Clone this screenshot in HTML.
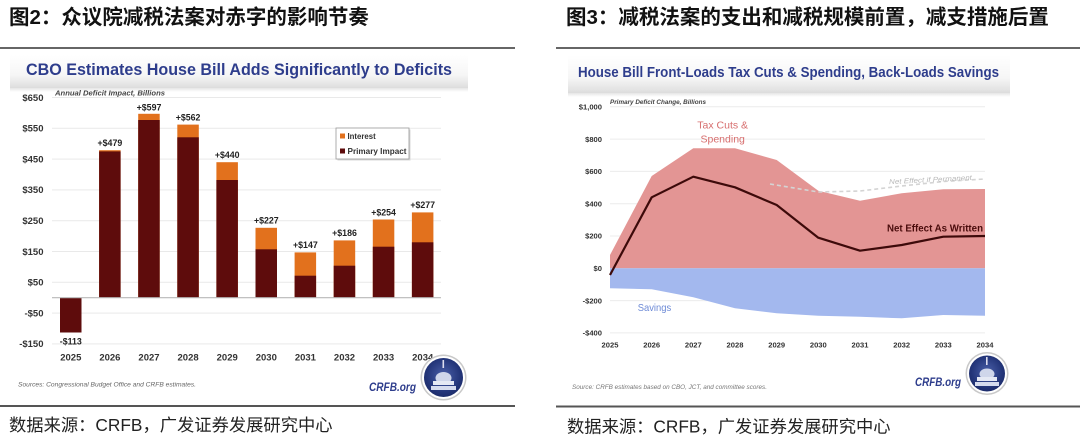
<!DOCTYPE html>
<html>
<head>
<meta charset="utf-8">
<style>
  html, body { margin:0; padding:0; background:#fff; }
  body { width:1080px; height:440px; overflow:hidden; }
  svg { display:block; }
  .cjk { font-family:"Liberation Sans","Noto Sans CJK SC",sans-serif; }
  .lat { font-family:"Liberation Sans",sans-serif; }
</style>
</head>
<body>
<svg width="1080" height="440" viewBox="0 0 1080 440" xmlns="http://www.w3.org/2000/svg">
  <defs>
    <linearGradient id="band" x1="0" y1="0" x2="0" y2="1">
      <stop offset="0" stop-color="#ffffff"/>
      <stop offset="0.6" stop-color="#f6f6f6"/>
      <stop offset="0.9" stop-color="#e4e4e4"/>
      <stop offset="1" stop-color="#dcdcdc"/>
    </linearGradient>
    <linearGradient id="shadow" x1="0" y1="0" x2="0" y2="1">
      <stop offset="0" stop-color="#e6e6e6"/>
      <stop offset="1" stop-color="#ffffff"/>
    </linearGradient>
    <radialGradient id="logo" cx="0.5" cy="0.45" r="0.6">
      <stop offset="0" stop-color="#4a5fa8"/>
      <stop offset="0.7" stop-color="#24367a"/>
      <stop offset="1" stop-color="#1a2966"/>
    </radialGradient>
  </defs>

  <!-- ===== Titles ===== -->
  <text class="cjk" x="9" y="24" font-size="20.5" font-weight="bold" fill="#111">图2：众议院减税法案对赤字的影响节奏</text>
  <text class="cjk" x="566" y="24" font-size="20.5" font-weight="bold" fill="#111">图3：减税法案的支出和减税规模前置，减支措施后置</text>

  <!-- separator lines -->
  <rect x="0" y="47" width="515" height="2" fill="#666"/>
  <rect x="556" y="47" width="524" height="2" fill="#666"/>
  <rect x="0" y="405" width="515" height="2" fill="#555"/>
  <rect x="556" y="405.5" width="524" height="2" fill="#555"/>

  <!-- bottom source text -->
  <text class="cjk" x="9" y="431" font-size="17.3" fill="#222">数据来源：CRFB，广发证券发展研究中心</text>
  <text class="cjk" x="567" y="432.5" font-size="17.3" fill="#222">数据来源：CRFB，广发证券发展研究中心</text>

  <!-- ===== LEFT CHART ===== -->
  <rect x="10" y="55" width="458" height="33" fill="url(#band)"/>
  <rect x="10" y="88" width="458" height="4" fill="url(#shadow)"/>
  <text class="lat" x="26" y="75" font-size="17" font-weight="bold" fill="#2e3d8c" textLength="426" lengthAdjust="spacingAndGlyphs">CBO Estimates House Bill Adds Significantly to Deficits</text>

  <!-- gridlines -->
  <g stroke="#e9e9e9" stroke-width="1">
    <line x1="52" y1="97.5" x2="441" y2="97.5"/>
    <line x1="52" y1="128.3" x2="441" y2="128.3"/>
    <line x1="52" y1="159.1" x2="441" y2="159.1"/>
    <line x1="52" y1="189.9" x2="441" y2="189.9"/>
    <line x1="52" y1="220.7" x2="441" y2="220.7"/>
    <line x1="52" y1="251.5" x2="441" y2="251.5"/>
    <line x1="52" y1="282.3" x2="441" y2="282.3"/>
    <line x1="52" y1="313.1" x2="441" y2="313.1"/>
    <line x1="52" y1="343.9" x2="441" y2="343.9"/>
  </g>

  <!-- y labels -->
  <g class="lat" font-size="9.5" font-weight="bold" fill="#333" text-anchor="end">
    <text x="43.5" y="100.8">$650</text>
    <text x="43.5" y="131.6">$550</text>
    <text x="43.5" y="162.4">$450</text>
    <text x="43.5" y="193.2">$350</text>
    <text x="43.5" y="224">$250</text>
    <text x="43.5" y="254.8">$150</text>
    <text x="43.5" y="285.6">$50</text>
    <text x="43.5" y="316.4">-$50</text>
    <text x="43.5" y="347.2">-$150</text>
  </g>

  <text class="lat" x="55" y="95.5" font-size="7.3" font-style="italic" font-weight="bold" fill="#444" textLength="110" lengthAdjust="spacingAndGlyphs">Annual Deficit Impact, Billions</text>

  <!-- bars -->
  <g>
    <!-- interest (orange) full totals -->
    <g fill="#e2711d">
      <rect x="99.1" y="150.2" width="21.5" height="147.5"/>
      <rect x="138.2" y="113.8" width="21.5" height="183.9"/>
      <rect x="177.3" y="124.6" width="21.5" height="173.1"/>
      <rect x="216.4" y="162.2" width="21.5" height="135.5"/>
      <rect x="255.5" y="227.8" width="21.5" height="69.9"/>
      <rect x="294.6" y="252.4" width="21.5" height="45.3"/>
      <rect x="333.7" y="240.4" width="21.5" height="57.3"/>
      <rect x="372.8" y="219.5" width="21.5" height="78.2"/>
      <rect x="411.9" y="212.4" width="21.5" height="85.3"/>
    </g>
    <g fill="#5e0c0c">
      <rect x="60" y="297.7" width="21.5" height="34.8"/>
      <rect x="99.1" y="151.4" width="21.5" height="146.3"/>
      <rect x="138.2" y="120" width="21.5" height="177.7"/>
      <rect x="177.3" y="137.3" width="21.5" height="160.4"/>
      <rect x="216.4" y="180" width="21.5" height="117.7"/>
      <rect x="255.5" y="249.3" width="21.5" height="48.4"/>
      <rect x="294.6" y="275.7" width="21.5" height="22"/>
      <rect x="333.7" y="265.7" width="21.5" height="32"/>
      <rect x="372.8" y="246.7" width="21.5" height="51"/>
      <rect x="411.9" y="242.3" width="21.5" height="55.4"/>
    </g>
  </g>
  <line x1="52" y1="297.7" x2="441" y2="297.7" stroke="#b8b8b8" stroke-width="1.2"/>

  <!-- bar value labels -->
  <g class="lat" font-size="8.8" font-weight="bold" fill="#222" text-anchor="middle">
    <text x="70.8" y="344.5">-$113</text>
    <text x="109.9" y="146.2">+$479</text>
    <text x="149" y="110.5">+$597</text>
    <text x="188.1" y="120.3">+$562</text>
    <text x="227.2" y="158.2">+$440</text>
    <text x="266.3" y="223.6">+$227</text>
    <text x="305.4" y="248.2">+$147</text>
    <text x="344.5" y="236.2">+$186</text>
    <text x="383.6" y="215.3">+$254</text>
    <text x="422.7" y="208.2">+$277</text>
  </g>

  <!-- year labels -->
  <g class="lat" font-size="9.5" font-weight="bold" fill="#333" text-anchor="middle">
    <text x="70.8" y="360.5">2025</text>
    <text x="109.9" y="360.5">2026</text>
    <text x="149" y="360.5">2027</text>
    <text x="188.1" y="360.5">2028</text>
    <text x="227.2" y="360.5">2029</text>
    <text x="266.3" y="360.5">2030</text>
    <text x="305.4" y="360.5">2031</text>
    <text x="344.5" y="360.5">2032</text>
    <text x="383.6" y="360.5">2033</text>
    <text x="422.7" y="360.5">2034</text>
  </g>

  <!-- legend -->
  <rect x="337.5" y="129.5" width="73" height="31" fill="#d8d8d8"/>
  <rect x="336" y="128" width="73" height="31" fill="#fff" stroke="#999" stroke-width="0.8"/>
  <rect x="340" y="133.5" width="5" height="5" fill="#e2711d"/>
  <text class="lat" x="347.5" y="139" font-size="7.8" font-weight="bold" fill="#333">Interest</text>
  <rect x="340" y="148.5" width="5" height="5" fill="#5e0c0c"/>
  <text class="lat" x="347.5" y="154" font-size="7.8" font-weight="bold" fill="#333" textLength="59" lengthAdjust="spacingAndGlyphs">Primary Impact</text>

  <!-- sources + CRFB -->
  <text class="lat" x="18" y="386.5" font-size="6.4" font-style="italic" fill="#666" textLength="178" lengthAdjust="spacingAndGlyphs">Sources: Congressional Budget Office and CRFB estimates.</text>
  <text class="lat" x="369" y="391" font-size="12" font-style="italic" font-weight="bold" fill="#2e3d8c" textLength="47" lengthAdjust="spacingAndGlyphs">CRFB.org</text>
  <g>
    <circle cx="443.5" cy="377.5" r="23" fill="#c9c9c9"/>
    <circle cx="443.5" cy="377.5" r="21.5" fill="#fff"/>
    <circle cx="443.5" cy="377.5" r="19.5" fill="url(#logo)"/>
    <rect x="442.5" y="360" width="1.6" height="8" fill="#dde"/>
    <ellipse cx="443.5" cy="378" rx="8" ry="6" fill="#cfd6ea"/>
    <rect x="433" y="381" width="21" height="4" fill="#e5e9f4"/>
    <rect x="431" y="386" width="25" height="4" fill="#d5dbee"/>
  </g>

  <!-- ===== RIGHT CHART ===== -->
  <rect x="568" y="55" width="442" height="38" fill="url(#band)"/>
  <rect x="568" y="93" width="442" height="4" fill="url(#shadow)"/>
  <text class="lat" x="578" y="77" font-size="14.5" font-weight="bold" fill="#2e3d8c" textLength="421" lengthAdjust="spacingAndGlyphs">House Bill Front-Loads Tax Cuts &amp; Spending, Back-Loads Savings</text>

  <g stroke="#ececec" stroke-width="1">
    <line x1="610" y1="106.8" x2="985" y2="106.8"/>
    <line x1="610" y1="139.1" x2="985" y2="139.1"/>
    <line x1="610" y1="171.4" x2="985" y2="171.4"/>
    <line x1="610" y1="203.7" x2="985" y2="203.7"/>
    <line x1="610" y1="236" x2="985" y2="236"/>
    <line x1="610" y1="300.6" x2="985" y2="300.6"/>
    <line x1="610" y1="332.9" x2="985" y2="332.9"/>
  </g>

  <g class="lat" font-size="7.6" font-weight="bold" fill="#333" text-anchor="end">
    <text x="602" y="109.5">$1,000</text>
    <text x="602" y="141.8">$800</text>
    <text x="602" y="174.1">$600</text>
    <text x="602" y="206.4">$400</text>
    <text x="602" y="238.7">$200</text>
    <text x="602" y="271">$0</text>
    <text x="602" y="303.3">-$200</text>
    <text x="602" y="335.6">-$400</text>
  </g>

  <text class="lat" x="610" y="104" font-size="6" font-style="italic" font-weight="bold" fill="#444" textLength="96" lengthAdjust="spacingAndGlyphs">Primary Deficit Change, Billions</text>

  <!-- red area -->
  <polygon fill="#e39594" points="610,255 651.7,176 693.3,148.3 735,148.3 776.7,160 818.3,190.7 860,200.7 901.7,193.3 943.3,189.3 985,189 985,268.3 610,268.3"/>
  <!-- blue area -->
  <polygon fill="#a3b8ee" points="610,268.3 985,268.3 985,315.7 943.3,315 901.7,318.3 860,316.7 818.3,315.7 776.7,313.3 735,308.3 693.3,297.3 651.7,289.3 610,288.3"/>

  <!-- dashed permanent line -->
  <polyline fill="none" stroke="#d4d4d4" stroke-width="1.6" stroke-dasharray="4,3" points="770,184 818.3,192 860,191 901.7,186 943.3,181.5 985,179"/>
  <text class="lat" x="889" y="182" font-size="7" font-style="italic" fill="#b9b9b9" transform="rotate(-3 930 180)" textLength="83" lengthAdjust="spacingAndGlyphs">Net Effect if Permanent</text>

  <!-- net line -->
  <polyline fill="none" stroke="#3d0a0a" stroke-width="2.2" stroke-linejoin="round" points="610,275 651.7,197.3 693.3,176.7 735,187.3 776.7,205 818.3,237.7 860,250.7 901.7,245 943.3,236.7 985,236"/>

  <text class="lat" x="887" y="231.5" font-size="10" font-weight="bold" fill="#4a0c0c" textLength="96" lengthAdjust="spacingAndGlyphs">Net Effect As Written</text>

  <g class="lat" font-size="10.5" fill="#d76e6e" text-anchor="middle">
    <text x="722.7" y="128.5">Tax Cuts &amp;</text>
    <text x="722.7" y="142.5">Spending</text>
  </g>
  <text class="lat" x="637.7" y="311" font-size="10.5" fill="#6d8ad6" textLength="33.5" lengthAdjust="spacingAndGlyphs">Savings</text>

  <g class="lat" font-size="7.6" font-weight="bold" fill="#333" text-anchor="middle">
    <text x="610" y="347.5">2025</text>
    <text x="651.7" y="347.5">2026</text>
    <text x="693.3" y="347.5">2027</text>
    <text x="735" y="347.5">2028</text>
    <text x="776.7" y="347.5">2029</text>
    <text x="818.3" y="347.5">2030</text>
    <text x="860" y="347.5">2031</text>
    <text x="901.7" y="347.5">2032</text>
    <text x="943.3" y="347.5">2033</text>
    <text x="985" y="347.5">2034</text>
  </g>

  <text class="lat" x="572" y="389" font-size="6" font-style="italic" fill="#777" textLength="195" lengthAdjust="spacingAndGlyphs">Source: CRFB estimates based on CBO, JCT, and committee scores.</text>
  <text class="lat" x="915" y="386" font-size="12" font-style="italic" font-weight="bold" fill="#2e3d8c" textLength="46" lengthAdjust="spacingAndGlyphs">CRFB.org</text>
  <g>
    <circle cx="987" cy="373.5" r="21.5" fill="#c9c9c9"/>
    <circle cx="987" cy="373.5" r="20" fill="#fff"/>
    <circle cx="987" cy="373.5" r="18" fill="url(#logo)"/>
    <rect x="986" y="357" width="1.6" height="8" fill="#dde"/>
    <ellipse cx="987" cy="374" rx="7.5" ry="5.5" fill="#cfd6ea"/>
    <rect x="977" y="377" width="20" height="4" fill="#e5e9f4"/>
    <rect x="975" y="382" width="24" height="4" fill="#d5dbee"/>
  </g>
</svg>
</body>
</html>
